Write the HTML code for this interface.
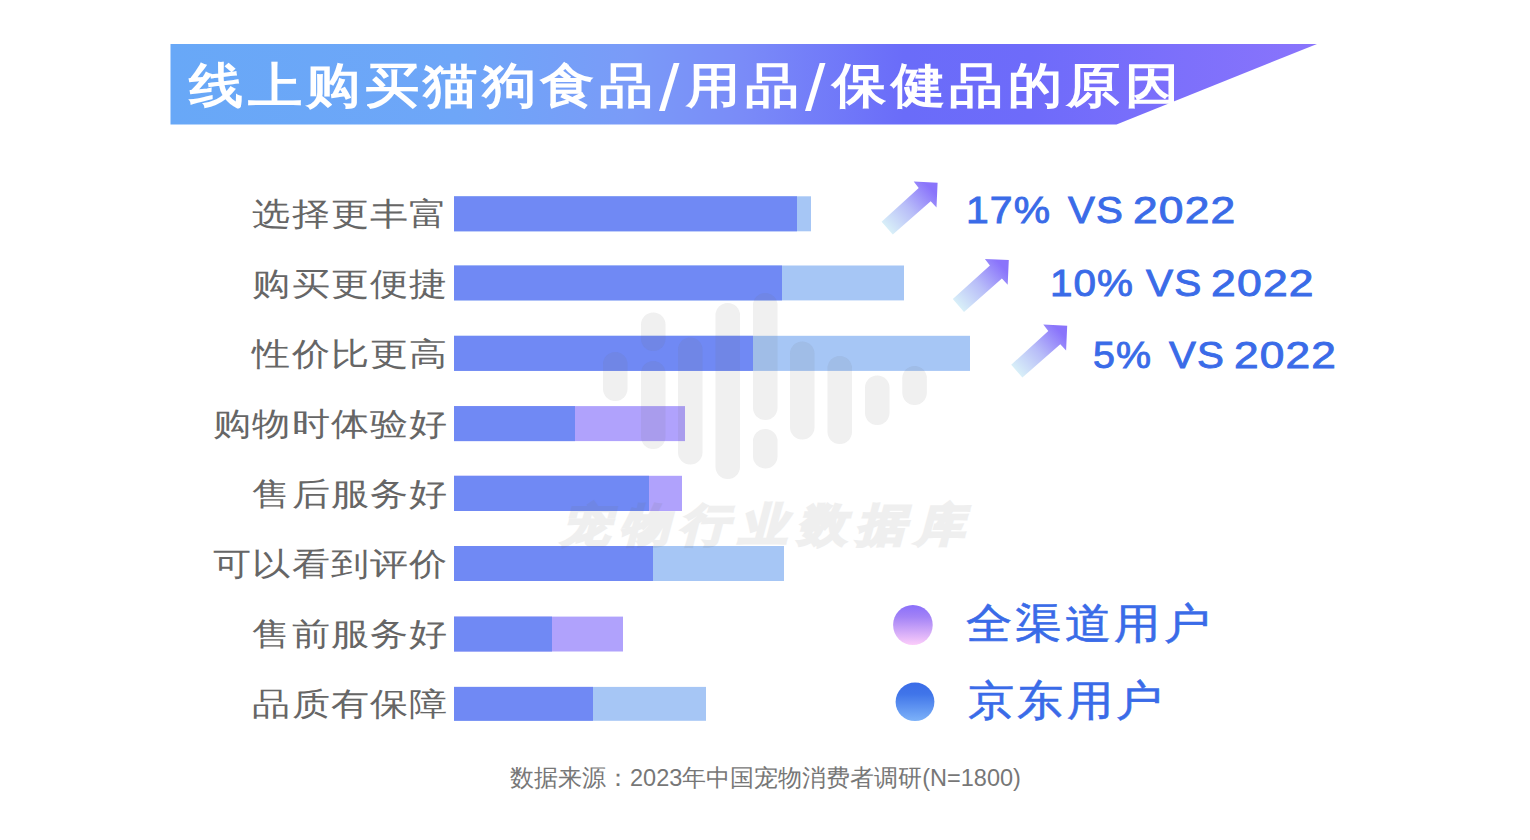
<!DOCTYPE html>
<html><head><meta charset="utf-8">
<style>
html,body{margin:0;padding:0;background:#fff;}
body{width:1530px;height:840px;position:relative;overflow:hidden;font-family:"Liberation Sans",sans-serif;}
.abs{position:absolute;white-space:nowrap;line-height:1;}
.c,.lbl i,.leg i,.ttl i,.wm i,.src i{display:inline-block;text-align:center;font-style:normal;}
.lbl i{width:33px;}
.ttl i{width:51.8px;}
.leg i{width:45px;}
.wm i{width:59px;}
.src i{width:24px;}
.lbl{position:absolute;right:1083px;font-size:32px;color:#666;line-height:1;white-space:nowrap;margin-right:-0.5px;transform:scaleX(1.19);transform-origin:100% 0;}
.sl{font-size:65px;line-height:0;font-weight:normal;position:relative;top:8px;letter-spacing:4.1px;margin-left:3.4px;}
.pct{position:absolute;font-size:37.5px;font-weight:normal;-webkit-text-stroke:0.9px #3a6be8;color:#3a6be8;line-height:1;white-space:nowrap;letter-spacing:1px;transform-origin:0 0;}
.leg{position:absolute;font-size:42px;color:#3a6be8;line-height:1;white-space:nowrap;margin-left:-1.65px;transform:scaleX(1.1);transform-origin:0 0;-webkit-text-stroke:0.6px #3a6be8;}
</style></head>
<body>
<svg class="abs" style="left:0;top:0" width="1530" height="840" viewBox="0 0 1530 840">
<defs>
<linearGradient id="ban" x1="170" y1="0" x2="1317" y2="0" gradientUnits="userSpaceOnUse">
<stop offset="0" stop-color="#68a8f7"/>
<stop offset="0.25" stop-color="#6ea6f8"/>
<stop offset="0.40" stop-color="#7a9bf8"/>
<stop offset="0.50" stop-color="#7a8bf8"/>
<stop offset="0.64" stop-color="#6a6cf9"/>
<stop offset="0.75" stop-color="#6e6bfa"/>
<stop offset="1" stop-color="#8a74fc"/>
</linearGradient>
<linearGradient id="arr" x1="887" y1="228" x2="930" y2="188" gradientUnits="userSpaceOnUse">
<stop offset="0" stop-color="#d8eff8"/>
<stop offset="0.5" stop-color="#b8bdf8"/>
<stop offset="1" stop-color="#8a74fb"/>
</linearGradient>
<linearGradient id="c1" x1="0" y1="0" x2="0" y2="1">
<stop offset="0" stop-color="#8a6ffa"/>
<stop offset="0.3" stop-color="#a383f6"/>
<stop offset="1" stop-color="#fccdfa"/>
</linearGradient>
<linearGradient id="c2" x1="0" y1="0" x2="0" y2="1">
<stop offset="0" stop-color="#3a6ce8"/>
<stop offset="0.3" stop-color="#4075e9"/>
<stop offset="1" stop-color="#7db2f9"/>
</linearGradient>
<path id="arrow" d="M881.6 221.8 L918.7 188.1 L913.7 181.6 L937.6 182.7 L936.5 207.5 L930.7 201.3 L892.8 234.6 Z"/>
</defs>
<polygon points="170.5,44 1317,44 1116.5,124.5 170.5,124.5" fill="url(#ban)"/>
<!-- bars -->
<g>
<rect x="454" y="196.3" width="357" height="35.0" fill="#a6c6f5"/>
<rect x="454" y="196.3" width="343" height="35.0" fill="#7089f4"/>
<rect x="454" y="265.5" width="450" height="34.9" fill="#a6c6f5"/>
<rect x="454" y="265.5" width="328" height="34.9" fill="#7089f4"/>
<rect x="454" y="335.8" width="516" height="35.1" fill="#a6c6f5"/>
<rect x="454" y="335.8" width="299" height="35.1" fill="#7089f4"/>
<rect x="454" y="406.1" width="231" height="35.0" fill="#b0a2fc"/>
<rect x="454" y="406.1" width="121" height="35.0" fill="#7089f4"/>
<rect x="454" y="475.8" width="228" height="35.2" fill="#b0a2fc"/>
<rect x="454" y="475.8" width="195" height="35.2" fill="#7089f4"/>
<rect x="454" y="546.0" width="330" height="35.0" fill="#a6c6f5"/>
<rect x="454" y="546.0" width="199" height="35.0" fill="#7089f4"/>
<rect x="454" y="616.6" width="169" height="34.9" fill="#b0a2fc"/>
<rect x="454" y="616.6" width="98" height="34.9" fill="#7089f4"/>
<rect x="454" y="686.9" width="252" height="33.9" fill="#a6c6f5"/>
<rect x="454" y="686.9" width="139" height="33.9" fill="#7089f4"/>
</g>
<!-- arrows -->
<use href="#arrow" fill="url(#arr)"/>
<g transform="translate(71.2 77.3)"><use href="#arrow" fill="url(#arr)"/></g>
<g transform="translate(129.6 143)"><use href="#arrow" fill="url(#arr)"/></g>
<!-- legend circles -->
<ellipse cx="912.9" cy="625" rx="19.8" ry="20" fill="url(#c1)"/>
<ellipse cx="915" cy="701.8" rx="19.4" ry="19.3" fill="url(#c2)"/>
</svg>

<div id="title" class="abs ttl" style="left:186.85px;top:62px;font-size:48px;font-weight:bold;color:#fff;transform:scaleX(1.13);transform-origin:0 0;"><i>线</i><i>上</i><i>购</i><i>买</i><i>猫</i><i>狗</i><i>食</i><i>品</i><span class="sl">/</span><i>用</i><i>品</i><span class="sl">/</span><i>保</i><i>健</i><i>品</i><i>的</i><i>原</i><i>因</i></div>

<div class="lbl" style="top:197.7px"><i>选</i><i>择</i><i>更</i><i>丰</i><i>富</i></div>
<div class="lbl" style="top:267.7px"><i>购</i><i>买</i><i>更</i><i>便</i><i>捷</i></div>
<div class="lbl" style="top:337.7px"><i>性</i><i>价</i><i>比</i><i>更</i><i>高</i></div>
<div class="lbl" style="top:407.7px"><i>购</i><i>物</i><i>时</i><i>体</i><i>验</i><i>好</i></div>
<div class="lbl" style="top:477.7px"><i>售</i><i>后</i><i>服</i><i>务</i><i>好</i></div>
<div class="lbl" style="top:547.7px"><i>可</i><i>以</i><i>看</i><i>到</i><i>评</i><i>价</i></div>
<div class="lbl" style="top:617.7px"><i>售</i><i>前</i><i>服</i><i>务</i><i>好</i></div>
<div class="lbl" style="top:687.7px"><i>品</i><i>质</i><i>有</i><i>保</i><i>障</i></div>

<div class="pct" style="left:966.1px;top:192.3px;transform:scaleX(1.090)">17%</div>
<div class="pct" style="left:1068.0px;top:192.3px;transform:scaleX(1.074)">VS</div>
<div class="pct" style="left:1132.8px;top:192.3px;transform:scaleX(1.183)">2022</div>
<div class="pct" style="left:1050.0px;top:265.3px;transform:scaleX(1.078)">10%</div>
<div class="pct" style="left:1146.0px;top:265.3px;transform:scaleX(1.084)">VS</div>
<div class="pct" style="left:1210.8px;top:265.3px;transform:scaleX(1.187)">2022</div>
<div class="pct" style="left:1092.9px;top:337.4px;transform:scaleX(1.051)">5%</div>
<div class="pct" style="left:1169.0px;top:337.4px;transform:scaleX(1.074)">VS</div>
<div class="pct" style="left:1233.8px;top:337.4px;transform:scaleX(1.180)">2022</div>

<div class="leg" style="left:966px;top:602.5px"><i>全</i><i>渠</i><i>道</i><i>用</i><i>户</i></div>
<div class="leg" style="left:967.5px;top:679.5px"><i>京</i><i>东</i><i>用</i><i>户</i></div>

<div class="abs src" style="left:510px;top:767px;font-size:23.5px;color:#777;"><i>数</i><i>据</i><i>来</i><i>源</i><i>：</i>2023<i>年</i><i>中</i><i>国</i><i>宠</i><i>物</i><i>消</i><i>费</i><i>者</i><i>调</i><i>研</i>(N=1800)</div>

<!-- watermark -->
<div class="abs wm" style="left:554.5px;top:499px;font-size:48px;font-weight:900;color:#6e6e6e;-webkit-text-stroke:3px #6e6e6e;opacity:0.105;transform:skewX(-15deg) scaleY(0.92);transform-origin:0 100%;"><i>宠</i><i>物</i><i>行</i><i>业</i><i>数</i><i>据</i><i>库</i></div>
<svg class="abs" style="left:0;top:0" width="1530" height="840" viewBox="0 0 1530 840">
<g fill="#6e6e6e" opacity="0.105">
<rect x="603" y="352" width="24.5" height="49" rx="12.25"/>
<rect x="641" y="312.5" width="24.5" height="38.5" rx="12.25"/>
<rect x="641" y="361" width="24.5" height="88" rx="12.25"/>
<rect x="678" y="337.5" width="24.5" height="127" rx="12.25"/>
<rect x="715.5" y="303" width="24.5" height="176" rx="12.25"/>
<rect x="753" y="293" width="24.5" height="127" rx="12.25"/>
<rect x="753" y="429" width="24.5" height="39.5" rx="12.25"/>
<rect x="790" y="341.5" width="24.5" height="98" rx="12.25"/>
<rect x="827.5" y="356" width="24.5" height="88" rx="12.25"/>
<rect x="865" y="375.5" width="24.5" height="49.5" rx="12.25"/>
<rect x="902.3" y="366" width="24.5" height="39" rx="12.25"/>
</g>
</svg>
</body></html>
